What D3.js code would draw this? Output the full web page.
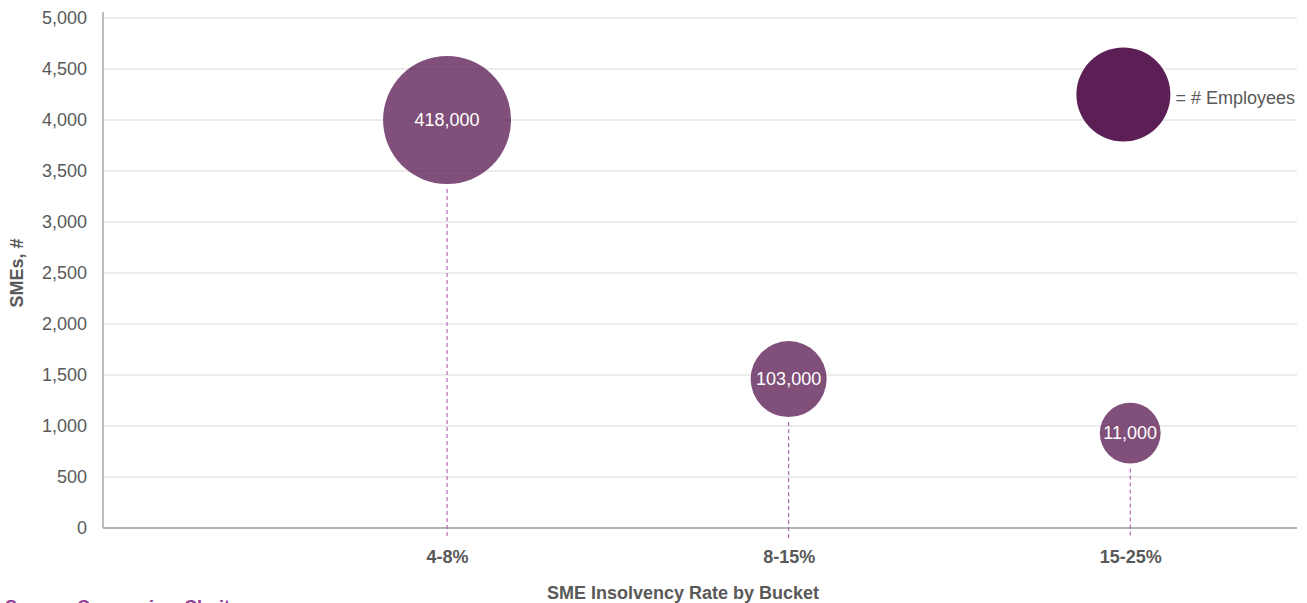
<!DOCTYPE html>
<html>
<head>
<meta charset="utf-8">
<script src="https://cdn.jsdelivr.net/npm/d3@7"></script>
<style>
  body { margin: 0; background: #fff; }
  .chart text { font-family: "Liberation Sans", Arial, sans-serif; fill: #595959; }
</style>
</head>
<body>
<div class="chart"></div>
<script>
// chart data
var categories = ["4-8%", "8-15%", "15-25%"];
var bucketPos = [1, 2, 3];
var smeCounts = [4000, 1460, 930];
var employees = [418000, 103000, 11000];
var yTicks = [0, 500, 1000, 1500, 2000, 2500, 3000, 3500, 4000, 4500, 5000];

// legend bubble
var legendPos = 2.98;
var legendSmes = 4250;
var legendSize = 212000;
var legendLabel = "= # Employees";

var svgWidth = 1307;
var svgHeight = 603;

var margin = { top: 18, right: 10, bottom: 75, left: 103 };
var width = svgWidth - margin.left - margin.right;
var height = svgHeight - margin.top - margin.bottom;

var svg = d3.select(".chart")
            .append("svg")
            .attr("width", svgWidth)
            .attr("height", svgHeight);

var chartGroup = svg.append("g")
                    .attr("transform", `translate(${margin.left}, ${margin.top})`);

var xScale = d3.scaleLinear()
  .domain([0, 3.5])
  .range([2.5, width + 4]);

var yScale = d3.scaleLinear()
  .domain([0, 5000])
  .range([height, 0]);

var rScale = d3.scaleLinear()
  .domain([0, 418000])
  .range([29.5, 64]);

// gridlines
chartGroup.selectAll(".grid")
  .data(yTicks.filter(d => d > 0))
  .enter()
  .append("line")
  .attr("x1", 0)
  .attr("x2", width)
  .attr("y1", d => yScale(d))
  .attr("y2", d => yScale(d))
  .attr("stroke", "#d9d9d9")
  .attr("stroke-width", 1);

// y axis
var leftAxis = d3.axisLeft(yScale)
  .tickValues(yTicks)
  .tickSize(0)
  .tickPadding(16)
  .tickFormat(d3.format(","));

var yAxisG = chartGroup.append("g").call(leftAxis);
yAxisG.select(".domain").remove();
yAxisG.selectAll("text")
  .style("font-size", "18px")
  .attr("fill", "#595959");

// x axis
var bottomAxis = d3.axisBottom(xScale)
  .tickValues(bucketPos)
  .tickSize(0)
  .tickPadding(22)
  .tickFormat((d, i) => categories[i]);

var xAxisG = chartGroup.append("g")
  .attr("transform", `translate(0, ${height})`)
  .call(bottomAxis);
xAxisG.select(".domain").remove();
xAxisG.selectAll("text")
  .style("font-size", "18px")
  .style("font-weight", "bold")
  .attr("fill", "#595959");

// axis lines
chartGroup.append("line")
  .attr("x1", 0).attr("x2", 0)
  .attr("y1", -6).attr("y2", height)
  .attr("stroke", "#9a9a9a")
  .attr("stroke-width", 1.3);

chartGroup.append("line")
  .attr("x1", 0).attr("x2", width)
  .attr("y1", height).attr("y2", height)
  .attr("stroke", "#9a9a9a")
  .attr("stroke-width", 1.3);

// drop lines
chartGroup.selectAll(".drop")
  .data(smeCounts)
  .enter()
  .append("line")
  .attr("x1", (d, i) => xScale(bucketPos[i]))
  .attr("x2", (d, i) => xScale(bucketPos[i]))
  .attr("y1", (d, i) => yScale(d) + rScale(employees[i]) + 5)
  .attr("y2", height + 10)
  .attr("stroke", "#a64ca6")
  .attr("stroke-width", 1)
  .attr("stroke-dasharray", "4,3");

// bubbles
chartGroup.selectAll(".bubble")
  .data(smeCounts)
  .enter()
  .append("circle")
  .attr("cx", (d, i) => xScale(bucketPos[i]))
  .attr("cy", d => yScale(d))
  .attr("r", (d, i) => rScale(employees[i]))
  .attr("fill", "#5c1f55")
  .attr("opacity", 0.78);

chartGroup.selectAll(".bubbleLabel")
  .data(smeCounts)
  .enter()
  .append("text")
  .attr("x", (d, i) => xScale(bucketPos[i]))
  .attr("y", d => yScale(d))
  .attr("dy", "0.35em")
  .attr("text-anchor", "middle")
  .style("font-size", "18px")
  .style("fill", "#ffffff")
  .text((d, i) => d3.format(",")(employees[i]));

// legend
chartGroup.append("circle")
  .attr("cx", xScale(legendPos))
  .attr("cy", yScale(legendSmes))
  .attr("r", rScale(legendSize))
  .attr("fill", "#5c1f55");

chartGroup.append("text")
  .attr("x", xScale(legendPos) + rScale(legendSize) + 5)
  .attr("y", yScale(legendSmes) + 3)
  .attr("dy", "0.35em")
  .style("font-size", "18px")
  .text(legendLabel);

// axis titles
chartGroup.append("text")
  .attr("transform", "rotate(-90)")
  .attr("x", -height / 2)
  .attr("y", 23 - margin.left)
  .attr("text-anchor", "middle")
  .style("font-size", "18px")
  .style("font-weight", "bold")
  .text("SMEs, #");

svg.append("text")
  .attr("x", 683)
  .attr("y", 599)
  .attr("text-anchor", "middle")
  .style("font-size", "18px")
  .style("font-weight", "bold")
  .text("SME Insolvency Rate by Bucket");

// source note (cut off at the bottom edge, as in the original)
svg.append("text")
  .attr("x", 5)
  .attr("y", 613)
  .style("font-size", "18px")
  .style("font-weight", "bold")
  .style("fill", "#913c91")
  .text("Source: Companies, Clarity");
</script>
</body>
</html>
